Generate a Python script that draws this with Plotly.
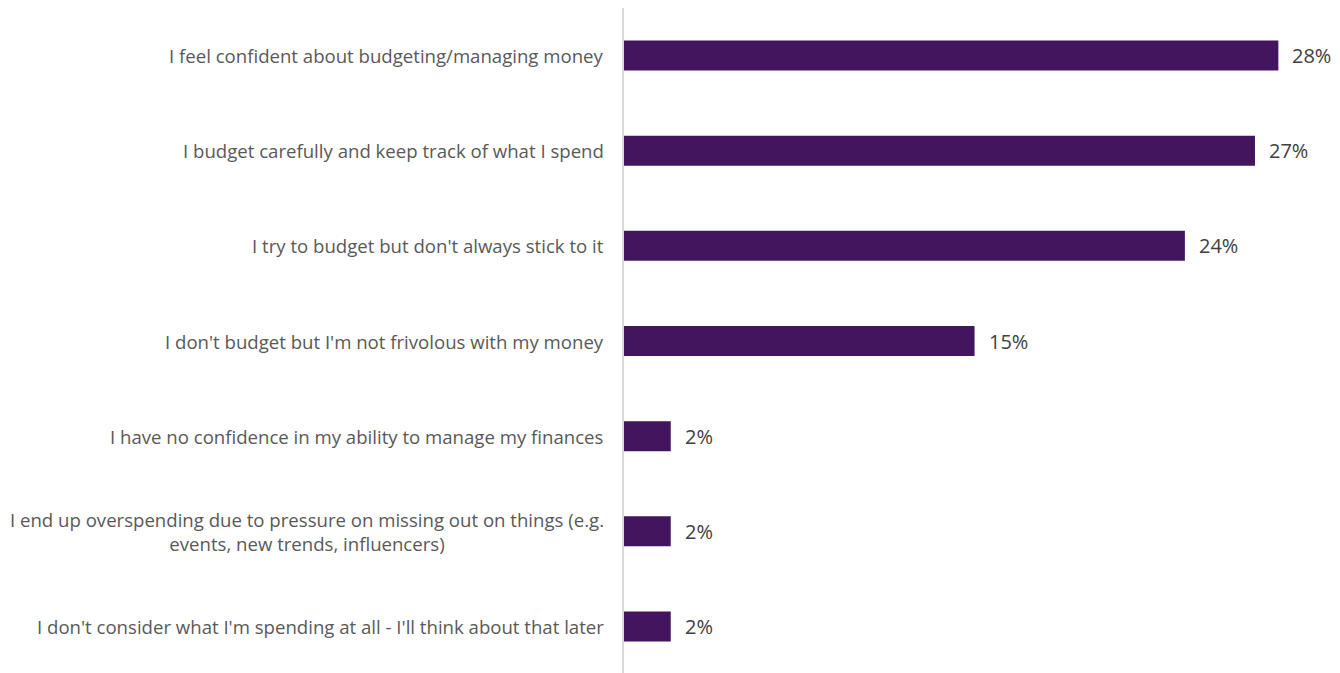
import plotly.graph_objects as go

categories = [
    "I feel confident about budgeting/managing money",
    "I budget carefully and keep track of what I spend",
    "I try to budget but don't always stick to it",
    "I don't budget but I'm not frivolous with my money",
    "I have no confidence in my ability to manage my finances",
    "I end up overspending due to pressure on missing out on things (e.g.<br>events, new trends, influencers)",
    "I don't consider what I'm spending at all - I'll think about that later",
]
values = [28, 27, 24, 15, 2, 2, 2]
value_labels = ["28%", "27%", "24%", "15%", "2%", "2%", "2%"]

bar_color = "#43155E"

fig = go.Figure()
fig.add_trace(go.Bar(
    x=values,
    y=categories,
    orientation="h",
    marker=dict(color=bar_color, line=dict(width=0)),
    hoverinfo="skip",
))

for v, c, t in zip(values, categories, value_labels):
    fig.add_annotation(
        x=v, y=c, text=t, showarrow=False, xanchor="left", xshift=12,
        font=dict(family="Open Sans", size=20, color="#404040"),
    )

for c in categories:
    fig.add_annotation(
        xref="paper", x=0, y=c, text=c, showarrow=False,
        xanchor="right", align="center", xshift=-18,
        font=dict(family="Open Sans", size=18.6, color="#595959"),
    )

fig.update_layout(
    width=1340, height=673,
    margin=dict(l=616, r=0, t=0, b=7),
    plot_bgcolor="white", paper_bgcolor="white",
    bargap=0.685,
    showlegend=False,
    font=dict(family="Open Sans", size=16, color="#595959"),
)
fig.update_xaxes(range=[0, 30.98], visible=False)
fig.update_yaxes(
    autorange="reversed",
    showline=True, linecolor="#D9D9D9", linewidth=1.5,
    ticks="", showgrid=False, zeroline=False,
    showticklabels=False,
)

fig.write_html("out.html")
